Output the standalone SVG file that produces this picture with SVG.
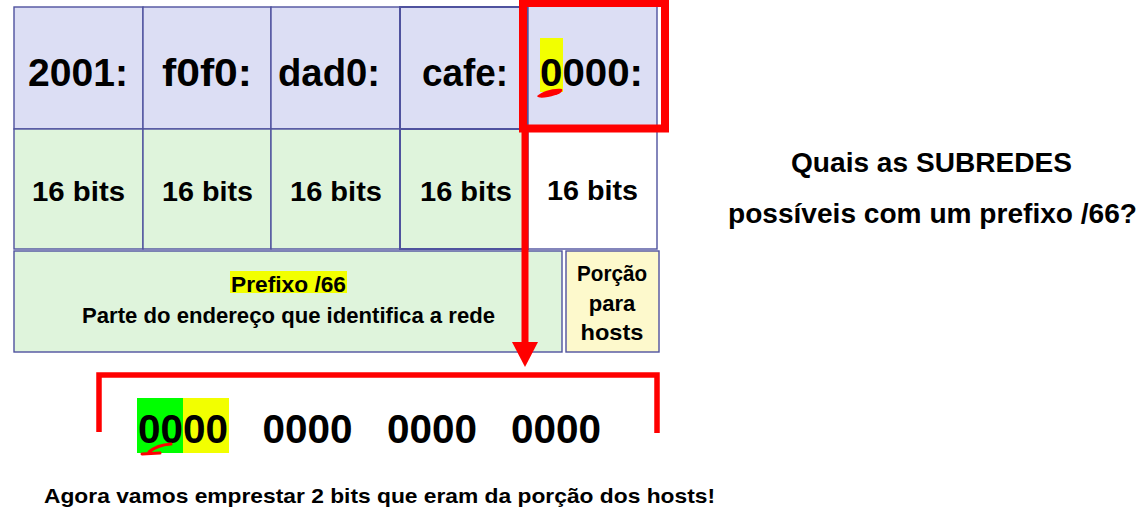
<svg xmlns="http://www.w3.org/2000/svg" width="1141" height="530" viewBox="0 0 1141 530">
<style>
.cell{stroke:#4f529e;stroke-width:1.4}
.hex{fill:#dcdef4}
.bits{fill:#dff4dc}
.white{fill:#ffffff}
.host{fill:#fdf9cc}
.t{font-family:"Liberation Sans",Arial,sans-serif;font-weight:bold;fill:#000}
.big{font-size:38px}
.mid{font-size:28px}
.sm{font-size:22px}
.q{font-size:27px}
.red{fill:none;stroke:#ff0000}
</style>
<defs>
<marker id="ah" markerUnits="userSpaceOnUse" viewBox="0 0 25 26" refX="0" refY="13" markerWidth="25" markerHeight="26" orient="auto">
<path d="M0,0 L25,13 L0,26 z" fill="#ff0000"/>
</marker>
</defs>
<rect width="1141" height="530" fill="#ffffff"/>

<g id="cell-2001">
<rect class="cell hex" x="14" y="7" width="129" height="122"/>
<text class="t big" x="28" y="86" textLength="100" lengthAdjust="spacingAndGlyphs">2001:</text>
</g>
<g id="cell-f0f0">
<rect class="cell hex" x="143" y="7" width="128" height="122"/>
<text class="t big" x="162" y="86" textLength="90" lengthAdjust="spacingAndGlyphs">f0f0:</text>
</g>
<g id="cell-dad0">
<rect class="cell hex" x="271" y="7" width="129" height="122"/>
<text class="t big" x="278" y="86" textLength="102" lengthAdjust="spacingAndGlyphs">dad0:</text>
</g>
<g id="cell-cafe">
<rect class="cell hex" x="400" y="7" width="128" height="122" style="stroke-width:2"/>
<text class="t big" x="422" y="86" textLength="86" lengthAdjust="spacingAndGlyphs">cafe:</text>
</g>
<g id="cell-0000">
<rect class="cell hex" x="528" y="6" width="129" height="123"/>
<rect x="540" y="38" width="23" height="54" fill="#f2ff00"/>
<text class="t big" x="540" y="86" textLength="103" lengthAdjust="spacingAndGlyphs">0000:</text>
<path d="M537,96 C543,91 553,88 562,89 C564,92 558,95 548,97 C542,98 538,98 537,96 z" fill="#ff0000"/>
</g>

<g id="bits-1">
<rect class="cell bits" x="14" y="129" width="129" height="120"/>
<text class="t mid" x="32" y="201" textLength="93" lengthAdjust="spacingAndGlyphs">16 bits</text>
</g>
<g id="bits-2">
<rect class="cell bits" x="143" y="129" width="128" height="120"/>
<text class="t mid" x="162" y="201" textLength="91" lengthAdjust="spacingAndGlyphs">16 bits</text>
</g>
<g id="bits-3">
<rect class="cell bits" x="271" y="129" width="129" height="120"/>
<text class="t mid" x="290" y="201" textLength="92" lengthAdjust="spacingAndGlyphs">16 bits</text>
</g>
<g id="bits-4">
<rect class="cell bits" x="400" y="129" width="128" height="120" style="stroke-width:2"/>
<text class="t mid" x="420" y="201" textLength="92" lengthAdjust="spacingAndGlyphs">16 bits</text>
</g>
<g id="bits-5">
<rect class="cell white" x="528" y="129" width="129" height="120"/>
<text class="t mid" x="547" y="200" textLength="91" lengthAdjust="spacingAndGlyphs">16 bits</text>
</g>

<g id="prefix">
<rect class="cell bits" x="14" y="251" width="548" height="101"/>
<rect x="230" y="271" width="117" height="22" fill="#f2ff00"/>
<text class="t sm" x="288.5" y="292" text-anchor="middle" textLength="115" lengthAdjust="spacingAndGlyphs">Prefixo /66</text>
<text class="t sm" x="288.5" y="323" text-anchor="middle" textLength="413" lengthAdjust="spacingAndGlyphs">Parte do endereço que identifica a rede</text>
</g>
<g id="hosts">
<rect class="cell host" x="566" y="251" width="93" height="101"/>
<text class="t sm" x="612" y="281" text-anchor="middle" textLength="70" lengthAdjust="spacingAndGlyphs">Porção</text>
<text class="t sm" x="612" y="311" text-anchor="middle">para</text>
<text class="t sm" x="612" y="340" text-anchor="middle" textLength="63" lengthAdjust="spacingAndGlyphs">hosts</text>
</g>

<g id="highlight-box">
<rect class="red" x="523" y="3" width="142" height="125.5" stroke-width="8"/>
</g>

<g id="connectors">
<line x1="525" y1="128" x2="525" y2="342" stroke="#ff0000" stroke-width="7" marker-end="url(#ah)"/>
</g>

<g id="bracket">
<path class="red" d="M99,432 V375 H657 V433" stroke-width="5.5"/>
</g>

<g id="binary">
<rect x="137" y="398" width="46" height="55" fill="#00ff00"/>
<rect x="183" y="398" width="46" height="55" fill="#f2ff00"/>
<text class="t" font-size="40" x="138" y="443" textLength="90" lengthAdjust="spacingAndGlyphs">0000</text>
<text class="t" font-size="40" x="262.5" y="443" textLength="90" lengthAdjust="spacingAndGlyphs">0000</text>
<text class="t" font-size="40" x="387" y="443" textLength="90" lengthAdjust="spacingAndGlyphs">0000</text>
<text class="t" font-size="40" x="511" y="443" textLength="90" lengthAdjust="spacingAndGlyphs">0000</text>
<path d="M142,454 L160,453 M149,452 Q157,445 171,444" fill="none" stroke="#ff0000" stroke-width="3" stroke-linecap="round"/>
</g>

<g id="question">
<text class="t q" x="791" y="172" textLength="281" lengthAdjust="spacingAndGlyphs">Quais as SUBREDES</text>
<text class="t q" x="728" y="223" textLength="409" lengthAdjust="spacingAndGlyphs">possíveis com um prefixo /66?</text>
</g>

<g id="note">
<text class="t" font-size="21" x="44" y="503" textLength="671" lengthAdjust="spacingAndGlyphs">Agora vamos emprestar 2 bits que eram da porção dos hosts!</text>
</g>
</svg>
